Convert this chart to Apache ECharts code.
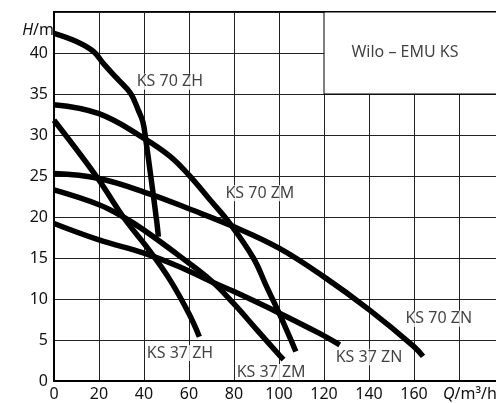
<!DOCTYPE html>
<html>
<head>
<meta charset="utf-8">
<script src="https://cdn.jsdelivr.net/npm/echarts@6/dist/echarts.min.js"></script>
<style>html,body{margin:0;padding:0;background:#fff}#c{width:496px;height:403px}</style>
</head>
<body>
<div id="c"></div>
<script>
// Pump curves: [Q (m³/h), H (m)]
const ks70ZH = [[0,42.4],[10,41.4],[17.5,40.2],[22,38.7],[28,36.9],[34,35.1],[37.5,33],[39.5,31.6],[40.8,29.4],[43,25],[45.6,19.6],[46.4,17.6]];
const ks70ZM = [[0,33.7],[20,32.6],[40,29.6],[51.6,27.4],[60,25.1],[69.3,22.1],[78.2,19.2],[88.6,15],[94.5,11.5],[100,8.3],[107.5,3.6]];
const ks70ZN = [[0,25.3],[20,24.7],[42.7,22.8],[60,21.0],[80,18.8],[100,16.2],[120,12.7],[140,8.7],[160,4.2],[164,3.0]];
const ks37ZH = [[0,31.8],[19,24.9],[30.8,20],[42.7,15.8],[51.6,12.3],[60,8.2],[64.6,5.4]];
const ks37ZM = [[0,23.3],[20,21.5],[30.8,20],[40,18.4],[56,15.2],[70,12.2],[80,9.4],[90,6.3],[100,3.2],[102,2.6]];
const ks37ZN = [[0,19.2],[20,17.2],[40,15.6],[56,13.9],[70,12.1],[80,10.9],[100,8.3],[118,5.8],[127,4.4]];

const seriesNames = ['KS 70 ZH','KS 70 ZM','KS 70 ZN','KS 37 ZH','KS 37 ZM','KS 37 ZN'];
const seriesData = [ks70ZH, ks70ZM, ks70ZN, ks37ZH, ks37ZM, ks37ZN];

// Curve label anchors [Q, H, text]
const curveLabels = [
  [51.5,36.5,'KS 70 ZH'],
  [91.5,22.9,'KS 70 ZM'],
  [171,7.6,'KS 70 ZN'],
  [56,3.4,'KS 37 ZH'],
  [96.5,1.1,'KS 37 ZM'],
  [140,2.9,'KS 37 ZN']
];
const titleText = 'Wilo – EMU KS';
const titleAnchor = [156,40.1];
const titleBox = [[120,35],[200,45]];

const xMin = 0, xMax = 200, xStep = 20;
const yMin = 0, yMax = 45, yStep = 5;
const xName = '{i|Q}/m³/h';
const yName = '{i|H}/m';

const FONT = 'Noto Sans';
const chart = echarts.init(document.getElementById('c'), null, {renderer:'canvas'});

const lineSeries = seriesData.map((d, i) => ({
  type: 'line',
  name: seriesNames[i],
  data: d,
  smooth: 0.4,
  symbol: 'none',
  z: 3,
  lineStyle: {color: '#000', width: 5.5, cap: 'butt'},
  markArea: i === 0 ? {
    silent: true,
    z: 1,
    itemStyle: {color: '#fff', borderColor: '#000', borderWidth: 1},
    data: [[{coord: titleBox[0]}, {coord: titleBox[1]}]]
  } : undefined
}));

const labelSeries = {
  type: 'scatter',
  data: curveLabels.concat([[titleAnchor[0], titleAnchor[1], titleText]]),
  symbolSize: 1,
  itemStyle: {color: 'rgba(0,0,0,0)'},
  z: 5,
  silent: true,
  label: {
    show: true,
    position: 'inside',
    formatter: p => p.data[2],
    color: '#111',
    fontFamily: FONT,
    fontSize: 16,
    backgroundColor: '#fff',
    padding: [0, 1]
  }
};

chart.setOption({
  animation: false,
  backgroundColor: '#fff',
  grid: {left: 54, top: 12, bottom: 22, right: -8, outerBoundsMode: 'none', containLabel: false, show: true, borderColor: '#000', borderWidth: 2, backgroundColor: 'transparent'},
  xAxis: {
    type: 'value', min: xMin, max: xMax, interval: xStep,
    axisLine: {show: true, lineStyle: {color: '#000', width: 2}},
    axisTick: {show: false},
    splitLine: {show: true, lineStyle: {color: '#222', width: 1}},
    axisLabel: {
      color: '#111', fontFamily: FONT, fontSize: 16, margin: 5,
      formatter: v => (v >= 180 ? '' : String(v))
    },
    name: xName, nameLocation: 'end', nameGap: -61,
    nameTextStyle: {
      color: '#111', fontFamily: FONT, fontSize: 16, align: 'left', verticalAlign: 'top', padding: [5,0,0,0],
      rich: {i: {fontStyle: 'italic', fontFamily: FONT, fontSize: 16, color: '#111'}}
    }
  },
  yAxis: {
    type: 'value', min: yMin, max: yMax, interval: yStep,
    axisLine: {show: true, lineStyle: {color: '#000', width: 2}},
    axisTick: {show: false},
    splitLine: {show: true, lineStyle: {color: '#222', width: 1}},
    axisLabel: {
      color: '#111', fontFamily: FONT, fontSize: 16, margin: 6,
      formatter: v => (v > 40 ? '' : String(v))
    },
    name: yName, nameLocation: 'end', nameGap: -26,
    nameTextStyle: {
      color: '#111', fontFamily: FONT, fontSize: 16, align: 'right', verticalAlign: 'bottom',
      rich: {i: {fontStyle: 'italic', fontFamily: FONT, fontSize: 16, color: '#111'}}
    }
  },
  series: lineSeries.concat([labelSeries])
});
</script>
</body>
</html>
